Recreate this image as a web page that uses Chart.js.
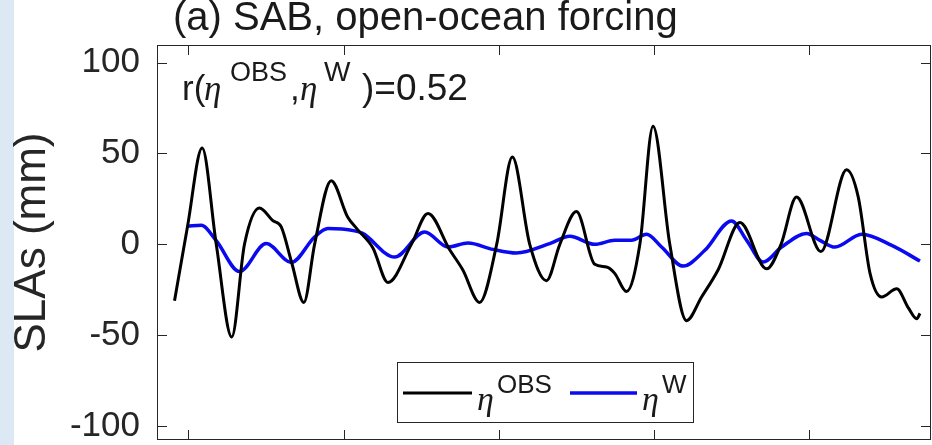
<!DOCTYPE html>
<html>
<head>
<meta charset="utf-8">
<script src="https://cdn.jsdelivr.net/npm/chart.js@4.4.1/dist/chart.umd.min.js"></script>
<style>
  html, body { margin: 0; padding: 0; }
  body { width: 932px; height: 445px; overflow: hidden; }
  #wrap { position: relative; width: 932px; height: 445px;
          background: linear-gradient(to right, #dce9f5 14px, #ffffff 14px); }
</style>
</head>
<body>
<div id="wrap"><canvas id="c" width="932" height="445"></canvas></div>
<script>
// ── DATA ──
// time axis (arbitrary units, x ticks at 0..400), SLA in mm
const tObs = [-9, -0.6, 8.8, 17.9, 27.9, 36.1, 45.8, 54.4, 59.8, 66.5, 74.4, 81.3, 92, 102.6, 108.6, 118.9, 128.6, 143.7, 154.4, 168.4, 176.8, 187.7, 198.7, 208.8, 220, 230.8, 239.4, 250.1, 261.9, 269.5, 274.8, 282.4, 291, 299.5, 310.3, 321.1, 330.8, 341.5, 355.5, 372.7, 382, 392, 407.7, 424.3, 431.8, 439.4, 446.9, 456.6, 464.1, 469.5, 471.6];
const slaObs = [-31, 10, 53, 0, -51, 0, 20, 13, 9.6, -10, -32, 0, 35, 15, 8.5, -2, -21, 0, 17, -3, -14, -32, 0, 48, 0, -20, 0, 18, -11, -12.5, -16, -26, 0, 65, 0, -42, -29, -14, 12, -13.5, 0, 26, -4, 41, 26, -16, -29, -24.5, -35, -41, -38];

const tW = [-0.5, 8.2, 17.9, 32.9, 50.1, 66.3, 81.3, 89.9, 107.1, 112.3, 132.9, 152.3, 167.3, 180.2, 196.3, 211.4, 232.9, 245.8, 261.9, 274.8, 285.6, 295.3, 305, 318.9, 332.9, 350.1, 360, 370.5, 382.4, 398.5, 407.1, 416.8, 434, 453.4, 471.6];
const slaW = [10, 10.5, 2, -15, 0.4, -10, 4, 8.7, 7.4, 6, -7, 6.8, -1.5, 0.7, -2.8, -4.8, 0.4, 4.4, 0, 2.2, 2.2, 5.5, -1.5, -12, -3.3, 12.9, 2, -9.8, -1.5, 6, 2.2, -1.5, 5.5, -0.6, -9.2];

const yTicks = [-100, -50, 0, 50, 100];
const xTicks = [0, 100, 200, 300, 400];

const titleText = '(a) SAB, open-ocean forcing';
const yLabel = 'SLAs (mm)';
const rValue = '0.52';

// ── STYLE ──
const axisCol = '#262626';
const sans = '"Liberation Sans", Arial, sans-serif';
const serif = '"Liberation Serif", "Times New Roman", serif';

const toXY = (xs, ys) => xs.map((x, i) => ({ x: x, y: ys[i] }));

// box, inward ticks, title, r annotation, legend
const decor = {
  id: 'decor',
  afterDraw(chart) {
    const ctx = chart.ctx;
    const a = chart.chartArea;
    const xs = chart.scales.x, ys = chart.scales.y;
    ctx.save();
    ctx.strokeStyle = axisCol;
    ctx.lineWidth = 1;
    ctx.strokeRect(a.left + 0.5, a.top + 0.5, a.right - a.left - 1, a.bottom - a.top - 1);
    ctx.beginPath();
    xTicks.forEach(v => {
      const px = Math.round(xs.getPixelForValue(v)) + 0.5;
      ctx.moveTo(px, a.bottom); ctx.lineTo(px, a.bottom - 10);
      ctx.moveTo(px, a.top); ctx.lineTo(px, a.top + 10);
    });
    yTicks.forEach(v => {
      const py = Math.round(ys.getPixelForValue(v)) + 0.5;
      ctx.moveTo(a.left, py); ctx.lineTo(a.left + 10, py);
      ctx.moveTo(a.right, py); ctx.lineTo(a.right - 10, py);
    });
    ctx.stroke();

    ctx.fillStyle = '#1a1a1a';
    ctx.textBaseline = 'alphabetic';
    ctx.textAlign = 'left';
    ctx.font = '40px ' + sans;
    ctx.fillText(titleText, 173, 30);

    // r(eta^OBS, eta^W)=0.52
    ctx.font = '35px ' + sans;
    ctx.fillText('r(', 182, 100);
    ctx.font = 'italic 35px ' + serif;
    ctx.fillText('\u03b7', 204, 100);
    ctx.font = '27px ' + sans;
    ctx.fillText('OBS', 230, 81);
    ctx.font = '35px ' + sans;
    ctx.fillText(',', 290, 100);
    ctx.font = 'italic 35px ' + serif;
    ctx.fillText('\u03b7', 300, 100);
    ctx.font = '28px ' + sans;
    ctx.fillText('W', 324, 81);
    ctx.font = '37px ' + sans;
    ctx.fillText(')=' + rValue, 362, 100);

    // legend
    ctx.fillStyle = '#ffffff';
    ctx.fillRect(397, 362, 297, 61);
    ctx.strokeStyle = axisCol;
    ctx.lineWidth = 1;
    ctx.strokeRect(397.5, 362.5, 296, 60);
    const ds = chart.data.datasets;
    const items = [
      { x0: 403, x1: 472, tx: 477, sx: 497, sup: 'OBS', d: ds[0] },
      { x0: 570, x1: 637, tx: 642, sx: 662, sup: 'W', d: ds[1] }
    ];
    items.forEach(it => {
      ctx.strokeStyle = it.d.borderColor;
      ctx.lineWidth = it.d.borderWidth;
      ctx.beginPath();
      ctx.moveTo(it.x0, 393); ctx.lineTo(it.x1, 393);
      ctx.stroke();
      ctx.fillStyle = '#1a1a1a';
      ctx.font = 'italic 34px ' + serif;
      ctx.fillText('\u03b7', it.tx, 410);
      ctx.font = '26px ' + sans;
      ctx.fillText(it.sup, it.sx, 393);
    });
    ctx.restore();
  }
};

new Chart(document.getElementById('c'), {
  type: 'line',
  data: {
    datasets: [
      { label: 'obs', data: toXY(tObs, slaObs), borderColor: '#000000', borderWidth: 3,
        pointRadius: 0, fill: false, cubicInterpolationMode: 'monotone' },
      { label: 'W', data: toXY(tW, slaW), borderColor: '#0a0af0', borderWidth: 3.5,
        pointRadius: 0, fill: false, cubicInterpolationMode: 'monotone' }
    ]
  },
  options: {
    responsive: false,
    animation: false,
    events: [],
    layout: { padding: { top: 45, right: 1, bottom: 0, left: 0 } },
    plugins: { legend: { display: false }, tooltip: { enabled: false }, title: { display: false } },
    scales: {
      x: {
        type: 'linear', min: -20.3, max: 478.7,
        ticks: { display: false, stepSize: 100, includeBounds: false },
        grid: { display: false, drawTicks: false },
        border: { display: false },
        afterFit: s => { s.height = 5; s.paddingLeft = 0; s.paddingRight = 0; }
      },
      y: {
        min: -107.7, max: 109.7,
        ticks: { stepSize: 50, includeBounds: false, padding: 17, color: axisCol,
                 font: { family: sans, size: 35 } },
        grid: { display: false, drawTicks: false },
        border: { display: false },
        title: { display: true, text: yLabel, color: axisCol, padding: { top: 6, bottom: 0 },
                 font: { family: sans, size: 44 } },
        afterFit: s => { s.width = 157; s.paddingTop = 0; s.paddingBottom = 0; }
      }
    }
  },
  plugins: [decor]
});
</script>
</body>
</html>
